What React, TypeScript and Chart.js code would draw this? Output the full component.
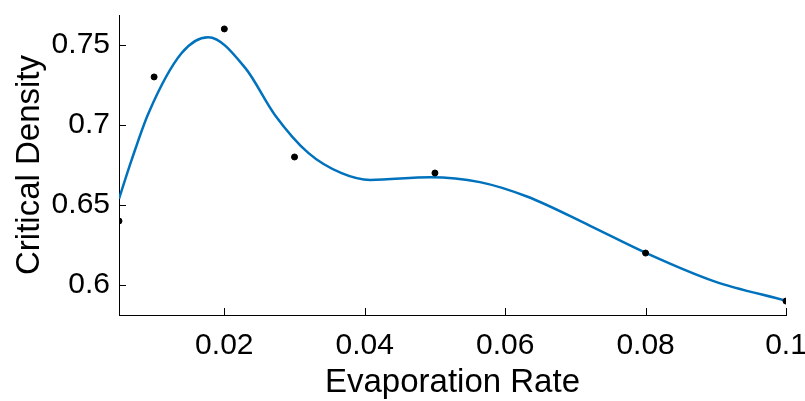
import React, { useEffect, useRef } from "react";
import { Chart, registerables } from "chart.js";

Chart.register(...registerables);

// Measured data points
const pointX = [0.005, 0.01, 0.02, 0.03, 0.05, 0.08, 0.1];
const pointY = [0.64, 0.73, 0.76, 0.68, 0.67, 0.62, 0.59];

// Fitted curve
const curveX = [0.005, 0.0068, 0.0092, 0.0139, 0.0177, 0.023, 0.0272, 0.032, 0.0367, 0.0408, 0.0493, 0.0564, 0.0631, 0.0721, 0.0799, 0.0897, 0.1];
const curveY = [0.6539, 0.6782, 0.7074, 0.7448, 0.7548, 0.7355, 0.7063, 0.6824, 0.6699, 0.6657, 0.6674, 0.6643, 0.6553, 0.637, 0.6204, 0.6025, 0.5902];

const xTicks = [0.02, 0.04, 0.06, 0.08, 0.1];
const yTicks = [0.6, 0.65, 0.7, 0.75];

const xTitle = "Evaporation Rate";
const yTitle = "Critical Density";

const FONT = "'Liberation Sans', Arial, sans-serif";

const inwardTicks = {
  id: "inwardTicks",
  afterDraw(chart: any) {
    const { ctx, scales } = chart;
    const xs = scales.x;
    const ys = scales.y;
    const len = 7;
    ctx.save();
    ctx.strokeStyle = "#000";
    ctx.lineWidth = 1;
    ctx.beginPath();
    xs.ticks.forEach((t: any) => {
      const px = Math.round(xs.getPixelForValue(t.value)) + 0.5;
      ctx.moveTo(px, ys.bottom);
      ctx.lineTo(px, ys.bottom - len);
    });
    ys.ticks.forEach((t: any) => {
      const py = Math.round(ys.getPixelForValue(t.value)) + 0.5;
      ctx.moveTo(xs.left, py);
      ctx.lineTo(xs.left + len, py);
    });
    ctx.stroke();
    ctx.restore();
  },
};

export default function App() {
  const ref = useRef<HTMLCanvasElement>(null);
  useEffect(() => {
    if (!ref.current) return;
    const chart = new Chart(ref.current, {
      type: "scatter",
      data: {
        datasets: [
          {
            type: "scatter",
            data: pointX.map((x, i) => ({ x, y: pointY[i] })),
            backgroundColor: "#000",
            borderColor: "#000",
            pointRadius: 3,
            order: 0,
          },
          {
            type: "line",
            data: curveX.map((x, i) => ({ x, y: curveY[i] })),
            borderColor: "#0072BD",
            borderWidth: 2.5,
            pointRadius: 0,
            fill: false,
            cubicInterpolationMode: "monotone",
            order: 1,
          } as any,
        ],
      },
      options: {
        animation: false,
        responsive: true,
        maintainAspectRatio: false,
        layout: { padding: { left: 0, right: 19, top: 15, bottom: 0 } },
        plugins: { legend: { display: false }, tooltip: { enabled: false } },
        scales: {
          x: {
            type: "linear",
            min: 0.005,
            max: 0.1,
            afterBuildTicks: (s: any) => {
              s.ticks = xTicks.map((v) => ({ value: v }));
            },
            afterFit: (s: any) => {
              s.height = 86;
              s.paddingLeft = 0;
              s.paddingRight = 0;
            },
            grid: { display: false, drawTicks: false },
            border: { display: true, color: "#000", width: 1 },
            ticks: {
              color: "#000",
              font: { family: FONT, size: 30 },
              padding: 13,
              maxRotation: 0,
              autoSkip: false,
              callback: (v: any) => String(+Number(v).toFixed(3)),
            },
            title: {
              display: true,
              text: xTitle,
              color: "#000",
              font: { family: FONT, size: 33 },
              padding: { top: 0, bottom: -2 },
            },
          },
          y: {
            type: "linear",
            min: 0.5813,
            max: 0.7687,
            afterBuildTicks: (s: any) => {
              s.ticks = yTicks.map((v) => ({ value: v }));
            },
            afterFit: (s: any) => {
              s.width = 119;
              s.paddingTop = 0;
              s.paddingBottom = 0;
            },
            grid: { display: false, drawTicks: false },
            border: { display: true, color: "#000", width: 1 },
            ticks: {
              color: "#000",
              font: { family: FONT, size: 30 },
              padding: 9,
              autoSkip: false,
              callback: (v: any) => String(+Number(v).toFixed(3)),
            },
            title: {
              display: true,
              text: yTitle,
              color: "#000",
              font: { family: FONT, size: 33 },
              padding: { top: 10, bottom: 0 },
            },
          },
        },
      },
      plugins: [inwardTicks],
    });
    return () => chart.destroy();
  }, []);
  return (
    <div style={{ position: "absolute", left: 0, top: 0, width: 805, height: 401, background: "#fff" }}>
      <canvas ref={ref} />
    </div>
  );
}
